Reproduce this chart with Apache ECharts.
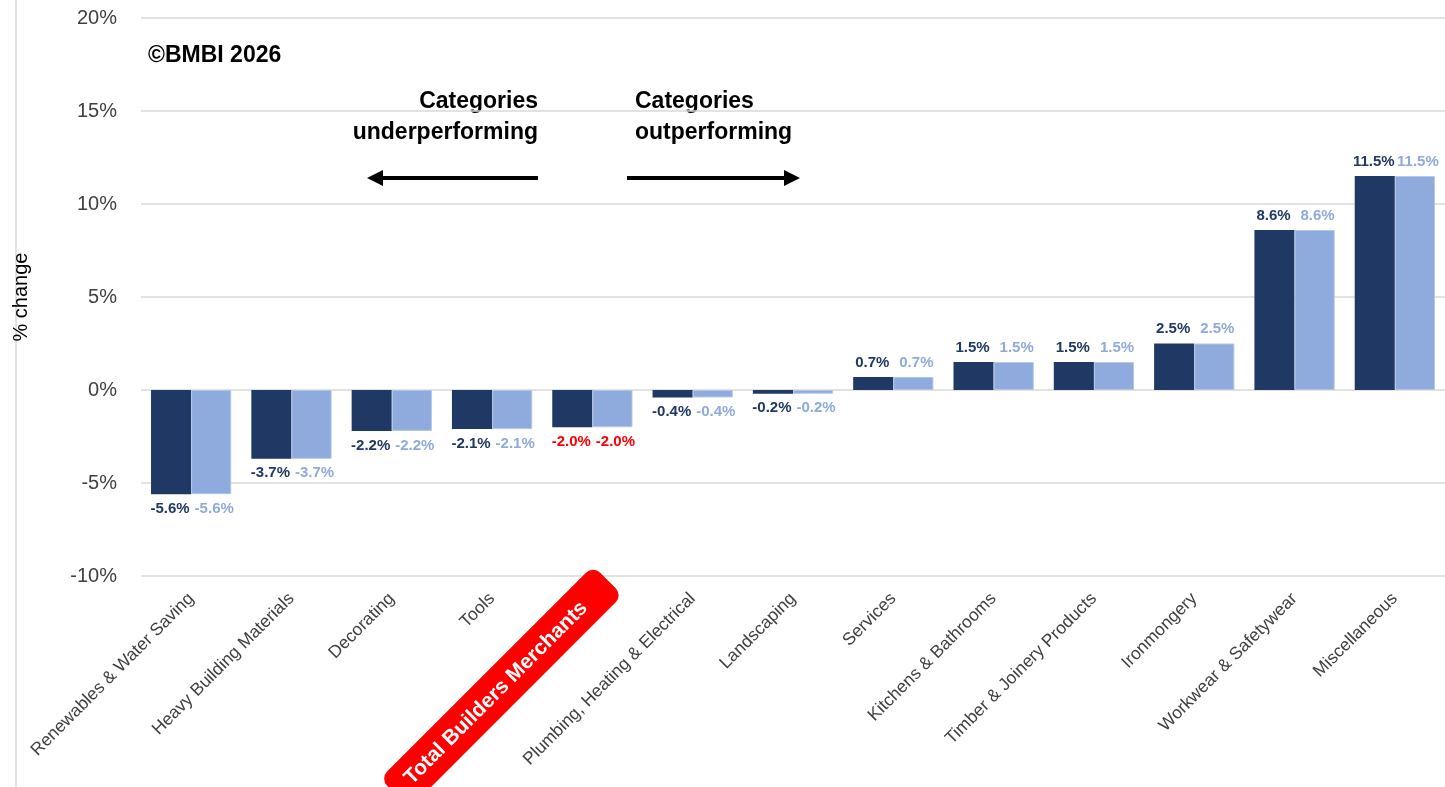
<!DOCTYPE html>
<html>
<head>
<meta charset="utf-8">
<script src="https://cdn.jsdelivr.net/npm/echarts@6/dist/echarts.min.js"></script>
<style>
  html, body { margin: 0; padding: 0; background: #fff; overflow: hidden; }
  #chart { width: 1445px; height: 787px; }
</style>
</head>
<body>
<div id="chart"></div>
<script>
// categories, sorted from worst to best
const categories = [
  'Renewables & Water Saving', 'Heavy Building Materials', 'Decorating', 'Tools',
  'Total Builders Merchants', 'Plumbing, Heating & Electrical', 'Landscaping',
  'Services', 'Kitchens & Bathrooms', 'Timber & Joinery Products', 'Ironmongery',
  'Workwear & Safetywear', 'Miscellaneous'
]
const seriesA = [-5.6, -3.7, -2.2, -2.1, -2.0, -0.4, -0.2, 0.7, 1.5, 1.5, 2.5, 8.6, 11.5]
const seriesB = [-5.6, -3.7, -2.2, -2.1, -2.0, -0.4, -0.2, 0.7, 1.5, 1.5, 2.5, 8.6, 11.5]
const yTicks = [-10, -5, 0, 5, 10, 15, 20]

const highlight = 'Total Builders Merchants'
const FONT = '"Liberation Sans", "Noto Sans", sans-serif'
const DARK = '#203864'
const LIGHT = '#8FAADC'

const chart = echarts.init(document.getElementById('chart'))

// build bar items, label below for negative values, red for the total
const buildItems = (values, color, dx) =>
  values.map((v, i) => ({
    value: v,
    label: {
      position: v < 0 ? 'bottom' : 'top',
      offset: [dx, 0],
      color: categories[i] === highlight ? '#FF0000' : color
    }
  }))

const barLabel = {
  show: true,
  distance: 7,
  fontFamily: FONT,
  fontWeight: 'bold',
  fontSize: 15,
  formatter: (p) => p.value.toFixed(1) + '%'
}

// the total gets a red pill, pushed a bit past the tick
const categoryData = categories.map((c) =>
  c === highlight ? { value: c, textStyle: { padding: [0, -22, 0, 0] } } : c
)

// arrow: a thick line plus a triangle head
const arrow = (x1, x2, y, dir) => {
  const base = x2 - dir * 16
  return [
    { type: 'line', shape: { x1: x1, y1: y, x2: base, y2: y }, style: { stroke: '#000', lineWidth: 4 } },
    { type: 'polygon', shape: { points: [[x2, y], [base, y - 8], [base, y + 8]] }, style: { fill: '#000' } }
  ]
}

chart.setOption({
  animation: false,
  textStyle: { fontFamily: FONT },
  grid: { left: 141, right: 0, top: 18, bottom: 211, containLabel: false, outerBoundsMode: 'none' },
  xAxis: {
    type: 'category',
    data: categoryData,
    axisLine: { show: false },
    axisTick: { show: false },
    axisLabel: {
      interval: 0,
      rotate: 45,
      margin: 20,
      fontSize: 17.5,
      color: '#404040',
      fontFamily: FONT,
      formatter: (v) => (v === highlight ? '{hl|' + v + '}' : v),
      rich: {
        hl: {
          color: '#fff',
          fontWeight: 'bold',
          fontSize: 21,
          fontFamily: FONT,
          backgroundColor: '#FF0000',
          borderRadius: 10,
          padding: [11, 34, 10, 18]
        }
      }
    }
  },
  yAxis: {
    type: 'value',
    min: yTicks[0],
    max: yTicks[yTicks.length - 1],
    interval: 5,
    name: '% change',
    nameLocation: 'middle',
    nameGap: 110,
    nameRotate: 90,
    nameTextStyle: { fontSize: 20, color: '#000', fontFamily: FONT },
    axisLine: { show: false },
    axisTick: { show: false },
    axisLabel: {
      margin: 24,
      fontSize: 20,
      color: '#404040',
      fontFamily: FONT,
      formatter: (v) => v + '%'
    },
    splitLine: { lineStyle: { color: '#D9D9D9', width: 1.5 } }
  },
  series: [
    {
      name: 'Series 1',
      type: 'bar',
      data: buildItems(seriesA, DARK, -1),
      itemStyle: { color: DARK },
      barGap: '0%',
      barCategoryGap: '20%',
      label: barLabel
    },
    {
      name: 'Series 2',
      type: 'bar',
      data: buildItems(seriesB, LIGHT, 3),
      itemStyle: { color: LIGHT, borderColor: '#B4C7E7', borderWidth: 1 },
      barGap: '0%',
      barCategoryGap: '20%',
      label: barLabel
    }
  ],
  graphic: [
    { type: 'line', shape: { x1: 16, y1: 0, x2: 16, y2: 787 }, style: { stroke: '#D9D9D9', lineWidth: 1.5 } },
    {
      type: 'text', left: 148, top: 44,
      style: { text: '©BMBI 2026', font: 'bold 23px ' + FONT, fill: '#000' }
    },
    {
      type: 'text', x: 538, y: 86,
      style: { text: 'Categories\nunderperforming', font: 'bold 23px ' + FONT, fill: '#000', align: 'right', lineHeight: 31 }
    },
    {
      type: 'text', x: 635, y: 86,
      style: { text: 'Categories\noutperforming', font: 'bold 23px ' + FONT, fill: '#000', align: 'left', lineHeight: 31 }
    },
    ...arrow(538, 367, 178, -1),
    ...arrow(627, 800, 178, 1)
  ]
})

window.addEventListener('resize', () => {
  chart.resize()
})
</script>
</body>
</html>
